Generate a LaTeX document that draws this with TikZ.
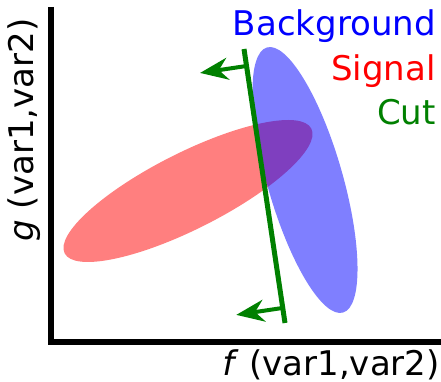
\documentclass[tikz,border=0pt]{standalone}
\usepackage{fontspec}
\setmainfont{DejaVu Sans}
\usetikzlibrary{arrows.meta,calc}
\definecolor{cutgreen}{RGB}{0,128,0}
\begin{document}
\begin{tikzpicture}[x=1pt,y=1pt,
  lbl/.style={font=\fontsize{34}{40}\selectfont, inner sep=0pt},
  cutline/.style={cutgreen, line width=5pt},
  cutarrow/.style={cutgreen, line width=4pt, -{Stealth[length=28pt,width=22pt,inset=9pt]}},
  blob/.style={opacity=0.5}]
\useasboundingbox (0,0) rectangle (441,382);
% distributions
\fill[red, blob] (188,191) ellipse [x radius=138.2, y radius=38.1, rotate=26.8];
\fill[blue, blob] (305,202) ellipse [x radius=37.7, y radius=137.9, rotate=16];
% axes
\coordinate (ytop) at (51,375);
\coordinate (origin) at (51,40);
\coordinate (xend) at (441,40);
\draw[line width=6pt] (ytop) -- (origin) -- (xend);
% cut
\coordinate (ctop) at (244,333);
\coordinate (cbot) at (285,59);
\draw[cutline] (ctop) -- (cbot);
\coordinate (a1) at ($(ctop)!0.062!(cbot)$);
\coordinate (a2) at ($(ctop)!0.945!(cbot)$);
\coordinate (t1) at ($(a1)!47pt!-90:(cbot)$);
\coordinate (t2) at ($(a2)!47pt!-90:(cbot)$);
\draw[cutarrow] (a1) -- (t1);
\draw[cutarrow] (a2) -- (t2);
% legend
\node[lbl, anchor=base east, text=blue] (bg) at (436,346) {Background};
\node[lbl, anchor=base east, text=red] (sig) at (436,301) {Signal};
\node[lbl, anchor=base east, text=cutgreen] (cut) at (436,257) {Cut};
% axis labels
\node[lbl, anchor=base east] (xlab) at (440,6) {\textit{f} (var1,var2)};
\node[lbl, anchor=base, rotate=90] (ylab) at (33.5,252) {\textit{g} (var1,var2)};
\end{tikzpicture}
\end{document}
